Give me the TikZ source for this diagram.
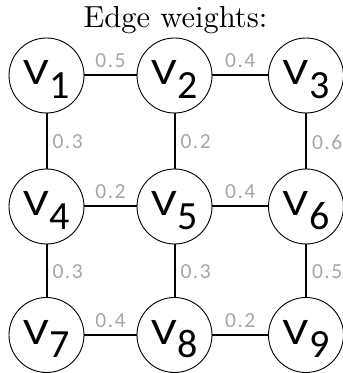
\documentclass[tikz,border=0pt]{standalone}
\usepackage{fontspec}
\newfontfamily\carlito{Carlito}
\newfontfamily\carlitows{Carlito}[LetterSpace=7]
\definecolor{wgray}{HTML}{A6A6A6}
\newcommand\vlab[1]{{\fontsize{37.5}{37.5}\selectfont\scalebox{1.2}[1]{V}}\kern1pt\raisebox{-13.3pt}{\fontsize{40}{40}\selectfont #1}}
\tikzset{
  vert/.style={circle, draw=black, line width=0.9pt, minimum size=75pt, inner sep=0pt,
    font=\carlito, text height=25pt, text depth=6pt},
  edge/.style={line width=2pt},
  hw/.style={midway, anchor=south, inner sep=0pt, yshift=6.5pt, text=wgray, font=\carlitows\fontsize{21.5}{21.5}\selectfont},
  vw/.style={midway, anchor=west, inner sep=0pt, xshift=5pt, yshift=-1pt, text=wgray, font=\carlitows\fontsize{21.5}{21.5}\selectfont},
}
\begin{document}
\begin{tikzpicture}[x=1pt,y=1pt]
\useasboundingbox (0,0) rectangle (343,373);
\clip (0,0) rectangle (343,373);
\node[anchor=base, inner sep=0pt] (title) at (175.5,345.7) {\scalebox{3.05}{Edge weights:}};
\node[vert] (v1) at (46.5,297.5) {\vlab{1}};
\node[vert] (v2) at (174.5,297.5) {\vlab{2}};
\node[vert] (v3) at (306,297.5) {\vlab{3}};
\node[vert] (v4) at (46.5,166.5) {\vlab{4}};
\node[vert] (v5) at (174.5,166.5) {\vlab{5}};
\node[vert] (v6) at (306,166.5) {\vlab{6}};
\node[vert] (v7) at (46.5,38) {\vlab{7}};
\node[vert] (v8) at (174.5,38) {\vlab{8}};
\node[vert] (v9) at (306,38) {\vlab{9}};
\draw[edge] (v1) -- node[hw] (w12) {0.5} (v2);
\draw[edge] (v2) -- node[hw] (w23) {0.4} (v3);
\draw[edge] (v4) -- node[hw] (w45) {0.2} (v5);
\draw[edge] (v5) -- node[hw] (w56) {0.4} (v6);
\draw[edge] (v7) -- node[hw] (w78) {0.4} (v8);
\draw[edge] (v8) -- node[hw] (w89) {0.2} (v9);
\draw[edge] (v1) -- node[vw] (w14) {0.3} (v4);
\draw[edge] (v2) -- node[vw] (w25) {0.2} (v5);
\draw[edge] (v3) -- node[vw] (w36) {0.6} (v6);
\draw[edge] (v4) -- node[vw] (w47) {0.3} (v7);
\draw[edge] (v5) -- node[vw] (w58) {0.3} (v8);
\draw[edge] (v6) -- node[vw] (w69) {0.5} (v9);
\end{tikzpicture}
\end{document}
